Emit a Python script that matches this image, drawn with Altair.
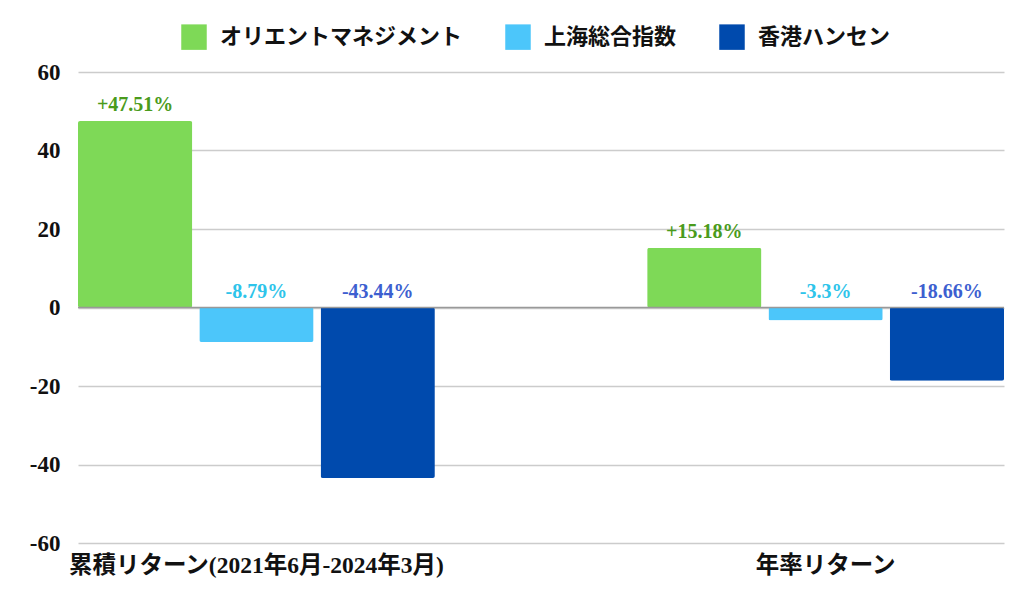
import altair as alt
import pandas as pd

categories = ["累積リターン(2021年6月-2024年3月)", "年率リターン"]
series = ["オリエントマネジメント", "上海総合指数", "香港ハンセン"]
values_cum = [47.51, -8.79, -43.44]
values_ann = [15.18, -3.3, -18.66]
labels_cum = ["+47.51%", "-8.79%", "-43.44%"]
labels_ann = ["+15.18%", "-3.3%", "-18.66%"]
bar_colors = ["#7ED957", "#4CC6FA", "#004AAD"]
label_colors = ["#4A9B1C", "#2EC4EA", "#3D5FD0"]

rows = []
for cat, vals, labs in [(categories[0], values_cum, labels_cum), (categories[1], values_ann, labels_ann)]:
    for s, v, l in zip(series, vals, labs):
        rows.append({"category": cat, "series": s, "value": v, "label": l, "labelY": max(v, 0)})
df = pd.DataFrame(rows)

FONT = "Liberation Serif, Noto Sans CJK JP"

x_enc = alt.X("category:N", sort=categories, title=None,
              scale=alt.Scale(paddingInner=0.373, paddingOuter=0.0),
              axis=alt.Axis(labelAngle=0, domain=False, ticks=False, grid=False, labelPadding=10,
                            labelFont=FONT, labelFontSize=23.5, labelFontWeight="bold",
                            labelColor="#111111", labelBaseline="top", labelLimit=600))
xo_enc = alt.XOffset("series:N", sort=series,
                     scale=alt.Scale(paddingInner=0.058, paddingOuter=0.0))
y_scale = alt.Scale(domain=[-60, 60], nice=False)

bars = alt.Chart(df).mark_bar(cornerRadius=2).encode(
    x=x_enc,
    xOffset=xo_enc,
    y=alt.Y("value:Q", scale=y_scale, title=None,
            axis=alt.Axis(values=[-60, -40, -20, 0, 20, 40, 60], domain=False, ticks=False,
                          labelExpr="'' + datum.value",
                          labelPadding=18, labelFont=FONT, labelFontSize=23,
                          labelFontWeight="bold", labelColor="#111111",
                          gridColor="#CCCCCC", gridWidth=1.3)),
    color=alt.Color("series:N", sort=series,
                    scale=alt.Scale(domain=series, range=bar_colors),
                    legend=alt.Legend(orient="none", direction="horizontal", title=None,
                                      legendX=103, legendY=-48,
                                      symbolType="square", symbolSize=650,
                                      symbolStrokeWidth=0, labelOffset=13,
                                      columnPadding=42, labelFont=FONT,
                                      labelFontSize=22, labelFontWeight="bold",
                                      labelColor="#111111", labelLimit=400)),
)

zero = alt.Chart(pd.DataFrame({"z": [0]})).mark_rule(color="#999999", strokeWidth=1.3).encode(
    y=alt.Y("z:Q", scale=y_scale)
)

texts = alt.Chart(df).mark_text(baseline="alphabetic", dy=-10, font=FONT, fontSize=20,
                                fontWeight="bold").encode(
    x=alt.X("category:N", sort=categories),
    xOffset=alt.XOffset("series:N", sort=series),
    y=alt.Y("labelY:Q", scale=y_scale),
    text="label:N",
    color=alt.Color("series:N", sort=series,
                    scale=alt.Scale(domain=series, range=label_colors), legend=None),
)

chart = alt.layer(bars, zero, texts).resolve_scale(color="independent").properties(
    width=926, height=471,
    background="white",
    autosize=alt.AutoSizeParams(type="none"),
    padding={"left": 70, "top": 64, "right": 12, "bottom": 40},
).configure_view(strokeWidth=0)

chart.save("out.html", embed_options={"renderer": "svg", "actions": False})
